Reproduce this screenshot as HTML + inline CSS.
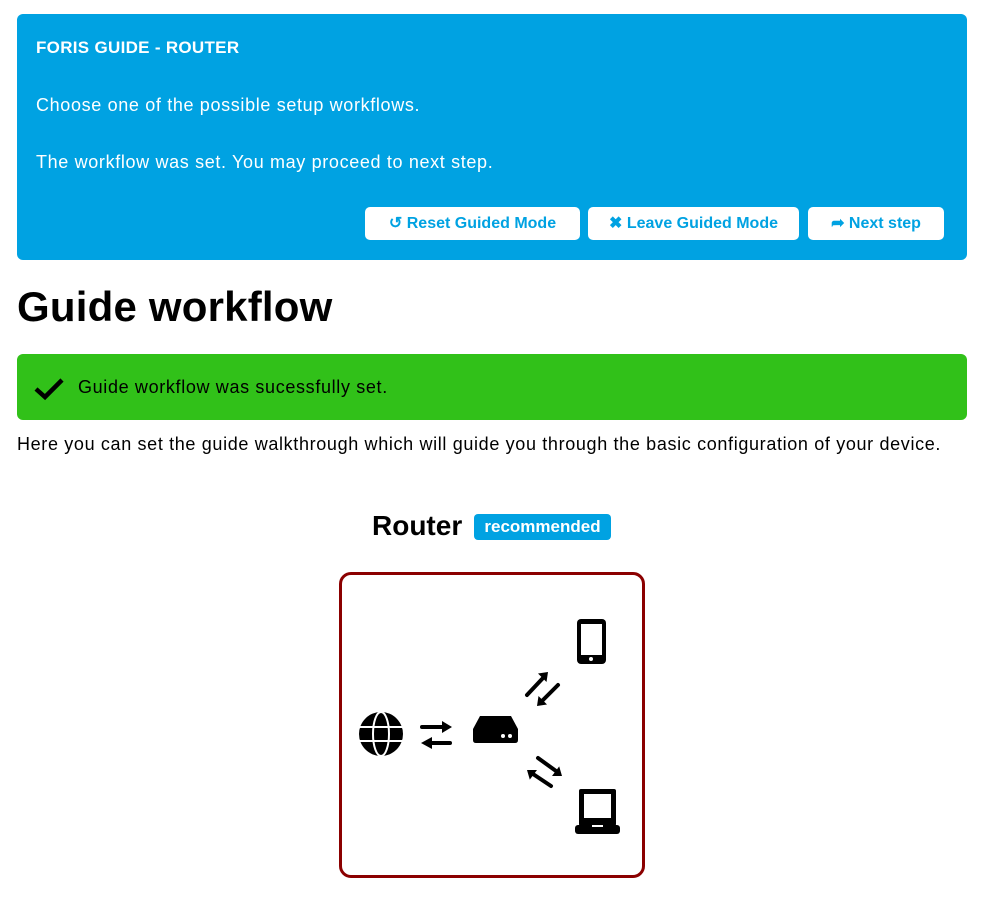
<!DOCTYPE html>
<html><head><meta charset="utf-8"><style>
body{margin:0;width:981px;height:915px;background:#fff;font-family:"Liberation Sans",sans-serif;position:relative;overflow:hidden;color:#000}
.a{position:absolute;white-space:nowrap}
.t{font-size:18px;letter-spacing:0.65px}
.blue{left:17px;top:14px;width:950px;height:246px;background:#00a2e2;border-radius:6px}
.btn{position:absolute;top:207px;height:33px;background:#fff;border-radius:5px;color:#00a2e2;font-weight:bold;font-size:16px;line-height:33px;text-align:center}
</style></head><body>
<div class="a blue"></div>
<div class="a" style="left:36px;top:38px;color:#fff;font-weight:bold;font-size:17px;letter-spacing:0.3px">FORIS GUIDE - ROUTER</div>
<div class="a t" style="left:36px;top:95px;color:#fff">Choose one of the possible setup workflows.</div>
<div class="a t" style="left:36px;top:152px;color:#fff">The workflow was set. You may proceed to next step.</div>
<div class="btn" style="left:365px;width:215px">↺ Reset Guided Mode</div>
<div class="btn" style="left:588px;width:211px">✖ Leave Guided Mode</div>
<div class="btn" style="left:808px;width:136px">➦ Next step</div>
<div class="a" style="left:17px;top:283px;font-weight:bold;font-size:42px;letter-spacing:0.2px">Guide workflow</div>
<div class="a" style="left:17px;top:354px;width:950px;height:66px;background:#31c119;border-radius:6px"></div>
<svg class="a" style="left:32px;top:376px" width="36" height="26"><path d="M4 13 L13 21 L30 4" stroke="#000" stroke-width="4.5" fill="none"/></svg>
<div class="a t" style="left:78px;top:377px">Guide workflow was sucessfully set.</div>
<div class="a t" style="left:17px;top:434px">Here you can set the guide walkthrough which will guide you through the basic configuration of your device.</div>
<div class="a" style="left:372px;top:510px;font-size:28px;font-weight:bold">Router</div>
<div class="a" style="left:474px;top:514px;width:137px;height:26px;background:#00a2e2;border-radius:4px;color:#fff;font-weight:bold;font-size:17px;line-height:26px;text-align:center">recommended</div>
<div class="a" style="left:339px;top:572px;width:300px;height:300px;border:3px solid #8b0000;border-radius:12px"></div>
<svg class="a" style="left:0;top:0" width="981" height="915">
<g>
<circle cx="381" cy="734" r="22" fill="#000"/>
<g stroke="#fff" stroke-width="2" fill="none">
<ellipse cx="381" cy="734" rx="8" ry="22"/>
<line x1="359" y1="727" x2="403" y2="727"/><line x1="359" y1="741" x2="403" y2="741"/>
</g>
</g>
<g stroke="#000" stroke-width="4" stroke-linecap="round" fill="#000">
<line x1="422" y1="727" x2="444" y2="727"/><path d="M442 721 L452 727 L442 733Z" stroke="none"/>
<line x1="430" y1="743" x2="450" y2="743"/><path d="M432 737 L421 743 L432 749Z" stroke="none"/>
<line x1="527" y1="695" x2="543" y2="678"/><path d="M548 672 L546.5 682 L538 673.5Z" stroke="none"/>
<line x1="558" y1="685" x2="542" y2="701"/><path d="M537 706 L547 704.5 L538.5 696Z" stroke="none"/>
<line x1="538" y1="758" x2="556" y2="771"/><path d="M562 776 L552 776 L559.2 766.4Z" stroke="none"/>
<line x1="551" y1="786" x2="533" y2="774"/><path d="M527 770 L529.8 779.6 L537 770Z" stroke="none"/>
</g>
<path d="M480 716 L511 716 L518 729 L518 740 Q518 743 515 743 L476 743 Q473 743 473 740 L473 729Z" fill="#000"/>
<circle cx="503" cy="736" r="2" fill="#fff"/><circle cx="510" cy="736" r="2" fill="#fff"/>
<rect x="577" y="619" width="29" height="45" rx="4" fill="#000"/>
<rect x="581" y="624" width="21" height="31" fill="#fff"/><circle cx="591" cy="659" r="2" fill="#fff"/>
<rect x="579" y="789" width="37" height="37" rx="2" fill="#000"/>
<rect x="584" y="794" width="27" height="24" fill="#fff"/>
<rect x="575" y="825" width="45" height="9" rx="3" fill="#000"/>
<rect x="592" y="825" width="11" height="2" fill="#fff"/>
</svg>
</body></html>
